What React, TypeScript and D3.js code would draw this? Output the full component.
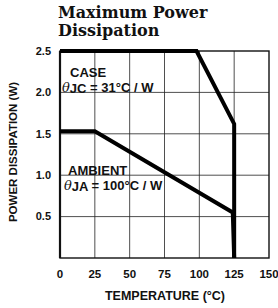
import * as d3 from "d3";

const xTicks = [0, 25, 50, 75, 100, 125, 150];
const yTicks = [0.5, 1.0, 1.5, 2.0, 2.5];
const caseTemp = [0, 98, 125, 125];
const casePower = [2.5, 2.5, 1.62, 0];
const ambTemp = [0, 25, 124, 125];
const ambPower = [1.53, 1.53, 0.55, 0];

export default function App() {
  const width = 278;
  const height = 308;
  const m = { left: 60, right: 9, top: 51, bottom: 50 };

  const x = d3.scaleLinear().domain([0, 150]).range([m.left, width - m.right]);
  const y = d3.scaleLinear().domain([0, 2.5]).range([height - m.bottom, m.top]);

  const line = d3
    .line<[number, number]>()
    .x(d => x(d[0]))
    .y(d => y(d[1]));

  const casePts = caseTemp.map((t, i) => [t, casePower[i]] as [number, number]);
  const ambPts = ambTemp.map((t, i) => [t, ambPower[i]] as [number, number]);

  const sans = "'Liberation Sans', Arial, sans-serif";

  return (
    <svg
      width={width}
      height={height}
      style={{ position: "absolute", left: 0, top: 0, background: "#fff" }}
    >
      {/* Title */}
      <g fontFamily="'DejaVu Serif', 'Liberation Serif', serif" fontWeight={700} fontSize={16} fill="#111">
        <text x={58} y={18}>Maximum Power</text>
        <text x={58} y={36}>Dissipation</text>
      </g>

      {/* grid */}
      <g stroke="#222" strokeWidth={0.8}>
        {xTicks.slice(1, -1).map(t => (
          <line key={t} x1={x(t)} x2={x(t)} y1={y(2.5)} y2={y(0)} />
        ))}
        {yTicks.slice(0, -1).map(t => (
          <line key={t} x1={x(0)} x2={x(150)} y1={y(t)} y2={y(t)} />
        ))}
      </g>

      {/* frame */}
      <rect
        x={x(0)}
        y={y(2.5)}
        width={x(150) - x(0)}
        height={y(0) - y(2.5)}
        fill="none"
        stroke="#111"
        strokeWidth={1.4}
      />
      <line x1={x(0)} x2={x(0)} y1={y(2.5)} y2={y(0)} stroke="#111" strokeWidth={2.2} />

      {/* curves */}
      <g fill="none" stroke="#000" strokeWidth={4} strokeLinejoin="miter">
        <path d={line(casePts) ?? ""} />
        <path d={line(ambPts) ?? ""} />
      </g>

      {/* y tick labels */}
      <g fontFamily={sans} fontWeight={700} fontSize={11} fill="#111" textAnchor="end">
        {yTicks.map(t => (
          <text key={t} x={51} y={y(t)} dy="0.35em">
            {d3.format(".1f")(t)}
          </text>
        ))}
      </g>

      {/* x tick labels */}
      <g fontFamily={sans} fontWeight={700} fontSize={11.5} fill="#111" textAnchor="middle">
        {xTicks.map(t => (
          <text key={t} x={x(t)} y={278}>
            {t}
          </text>
        ))}
      </g>

      {/* axis titles */}
      <text
        x={165}
        y={300}
        textAnchor="middle"
        fontFamily={sans}
        fontWeight={700}
        fontSize={12.5}
        fill="#111"
      >
        TEMPERATURE (°C)
      </text>
      <text
        transform={`translate(17,152) rotate(-90)`}
        textAnchor="middle"
        fontFamily={sans}
        fontWeight={700}
        fontSize={11.5}
        fill="#111"
      >
        POWER DISSIPATION (W)
      </text>

      {/* annotations */}
      <g fontFamily={sans} fontWeight={700} fontSize={13} fill="#111">
        <text x={70} y={77}>CASE</text>
        <text x={62} y={92}>
          <tspan fontFamily="'DejaVu Serif', serif" fontStyle="italic" fontWeight={400}>θ</tspan>
          <tspan dy={1}>JC</tspan>
          <tspan dy={-1}> = 31°C / W</tspan>
        </text>
        <text x={68} y={175}>AMBIENT</text>
        <text x={64} y={190}>
          <tspan fontFamily="'DejaVu Serif', serif" fontStyle="italic" fontWeight={400}>θ</tspan>
          <tspan dy={1}>JA</tspan>
          <tspan dy={-1}> = 100°C / W</tspan>
        </text>
      </g>
    </svg>
  );
}
